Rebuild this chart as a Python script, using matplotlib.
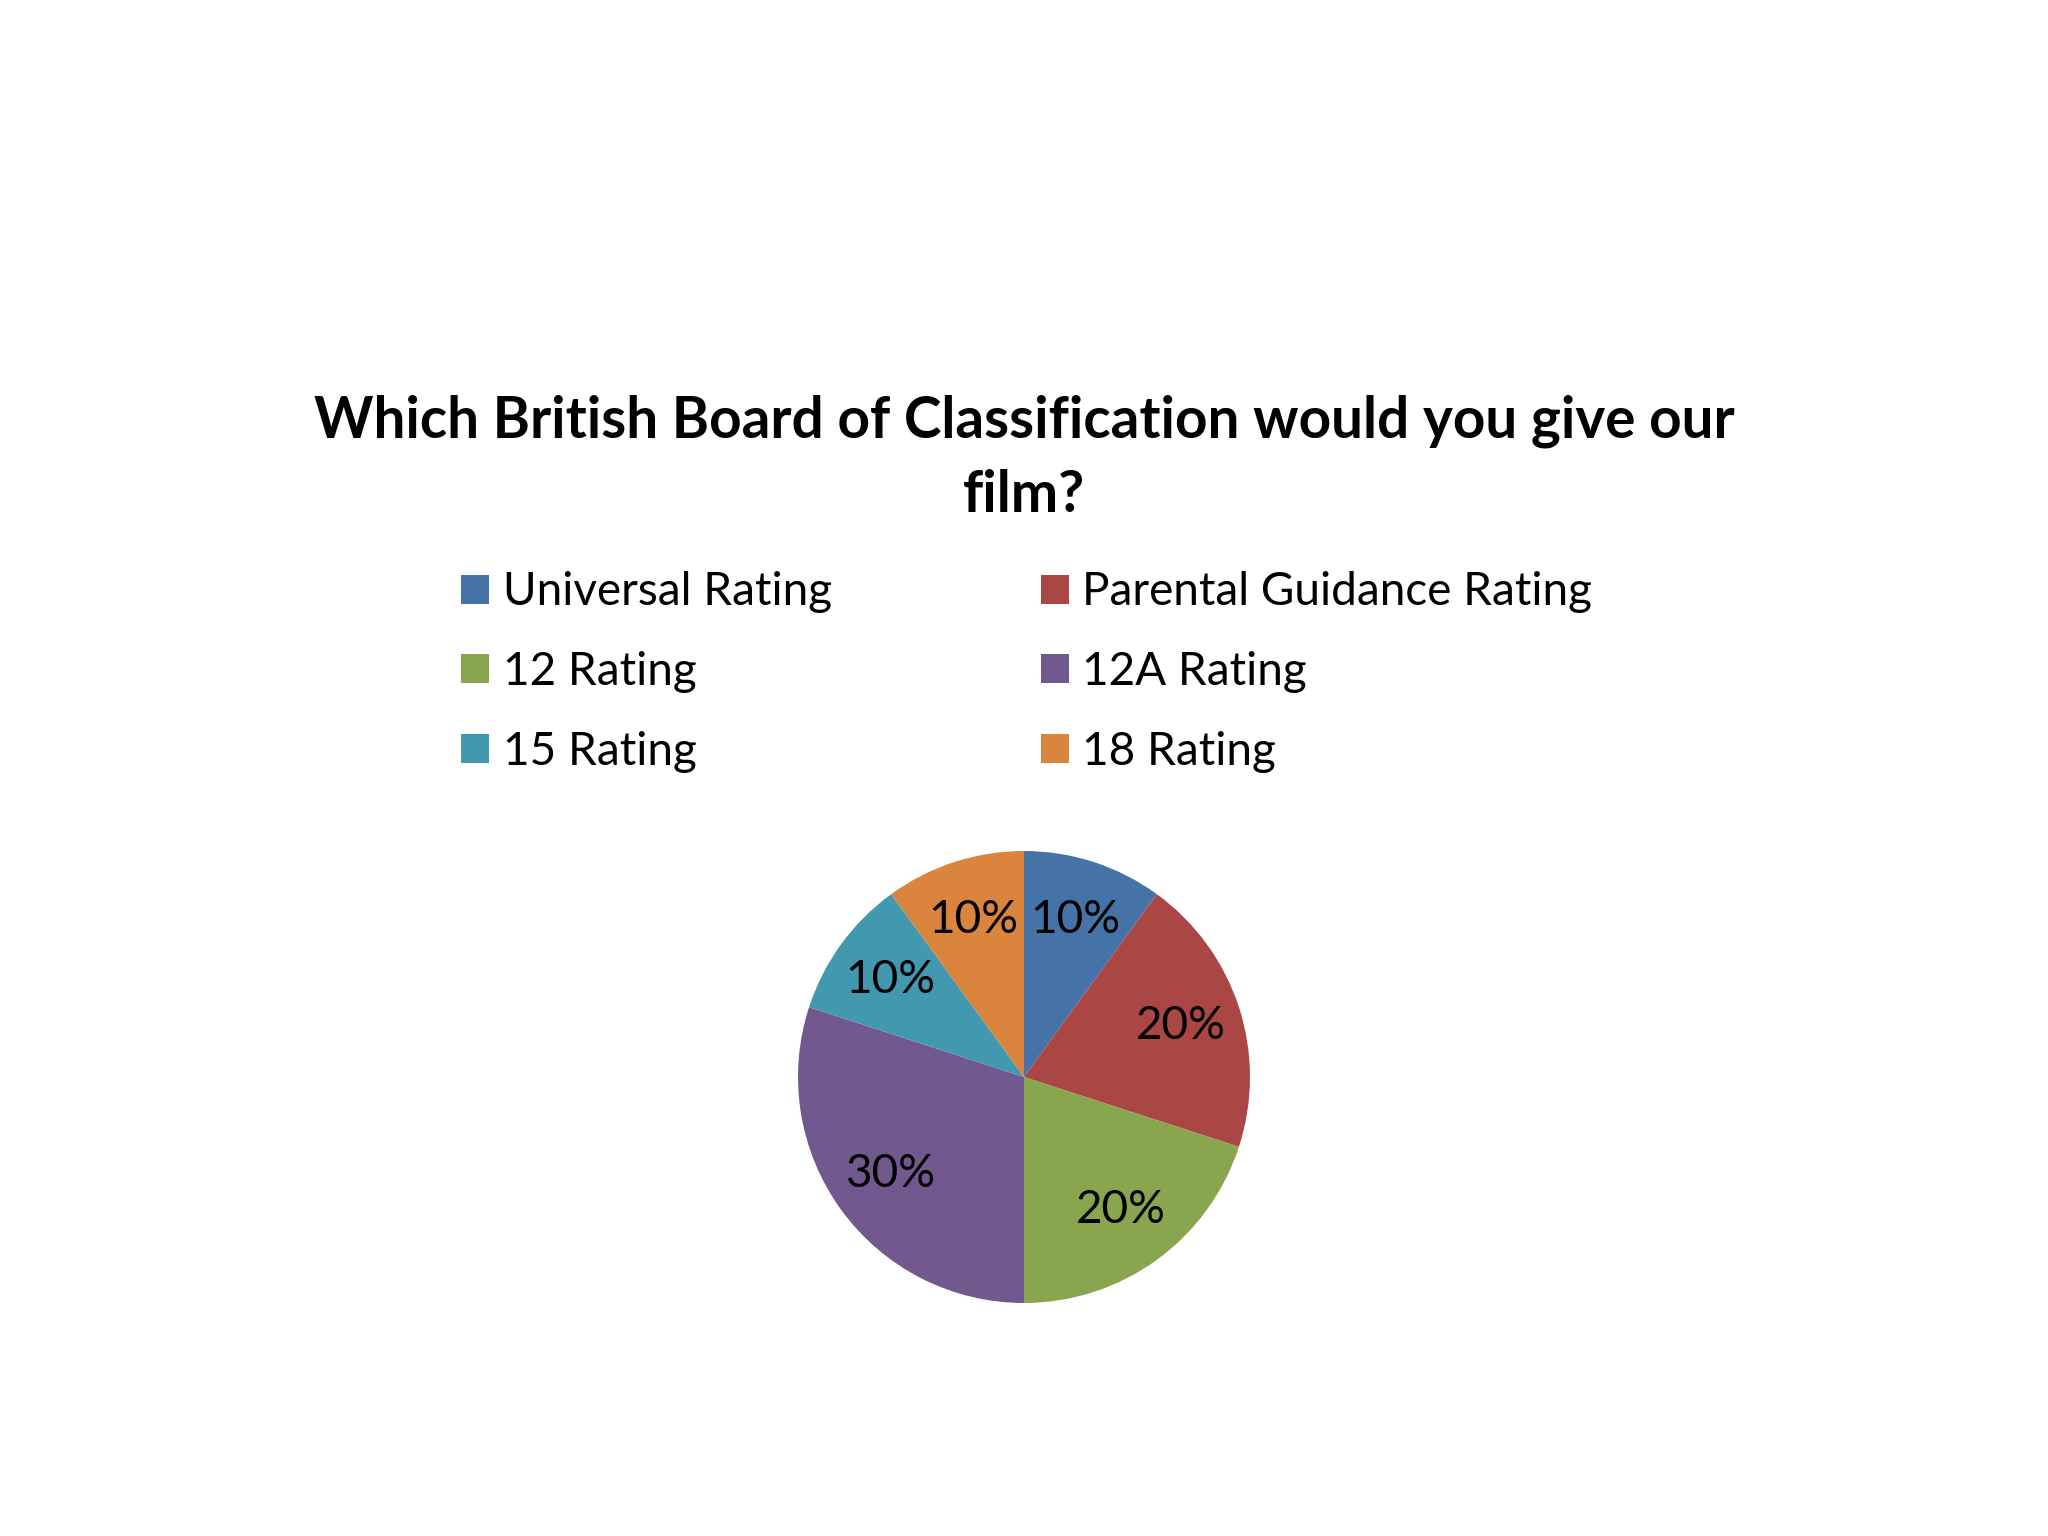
import matplotlib
matplotlib.use("Agg")
import matplotlib.pyplot as plt

categories = ["Universal Rating", "Parental Guidance Rating", "12 Rating",
              "12A Rating", "15 Rating", "18 Rating"]
values = [10, 20, 20, 30, 10, 10]
colors = ["#4573A7", "#AA4644", "#89A54E", "#71588F", "#4198AF", "#DB843D"]
title = "Which British Board of Classification would you give our\nfilm?"

plt.rcParams['font.family'] = ['Lato', 'DejaVu Sans']

W, H = 2048, 1536
dpi = 200
fig = plt.figure(figsize=(W / dpi, H / dpi), dpi=dpi, facecolor="white")

cx, cy, r = 1024, 1077, 226
ax = fig.add_axes([(cx - r) / W, (H - cy - r) / H, 2 * r / W, 2 * r / H])
wedges, texts, autotexts = ax.pie(values, colors=colors, startangle=90, counterclock=False,
                                  autopct='%1.0f%%', pctdistance=0.73,
                                  textprops=dict(fontsize=16.5, color="black"))
ax.set_xlim(-1, 1)
ax.set_ylim(-1, 1)
ax.set_aspect("equal")

fig.text(0.5, 1 - 458 / H, title, ha="center", va="center", fontsize=20.4,
         fontweight="bold", linespacing=1.5)

order = [0, 2, 4, 1, 3, 5]
fig.legend([wedges[i] for i in order], [categories[i] for i in order],
           ncol=2, loc="upper left", bbox_to_anchor=(443 / W, 1 - 553 / H),
           frameon=False, fontsize=16.5, handlelength=0.6, handleheight=0.6,
           handletextpad=0.3, columnspacing=4.57, labelspacing=0.82,
           borderaxespad=0)

fig.savefig("out.png", dpi=dpi, facecolor="white")
